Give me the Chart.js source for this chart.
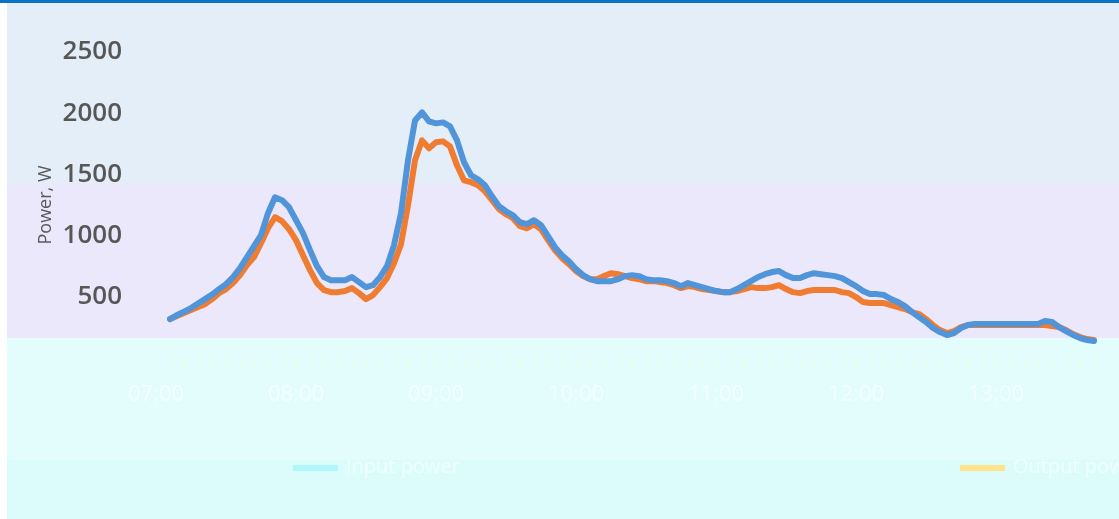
<!DOCTYPE html>
<html>
<head>
<meta charset="utf-8">
<script src="https://cdn.jsdelivr.net/npm/chart.js@4.4.1/dist/chart.umd.min.js"></script>
<style>
  html, body { margin: 0; padding: 0; background: #fff; }
  #wrap { position: relative; width: 1119px; height: 519px; overflow: hidden; }
  .band { position: absolute; left: 7px; right: 0; }
  #topbar { left: 0; top: 0; height: 3px; background: #0b72c4; }
  #b1 { top: 3px; height: 180px; background: #e4eef8; }
  #b2 { top: 183px; height: 155px; background: #ece8fb; }
  #b3 { top: 338px; height: 122px; background: #e3fcfc; }
  #b4 { top: 460px; bottom: 0; background: #dcfcfc; }
  #chart { position: absolute; left: 0; top: 0; }
  .lg { position: absolute; top: 452px; font: 20px "Open Sans", sans-serif; color: #f0ffff; white-space: nowrap; }
  .lg i { display: inline-block; width: 45px; height: 6px; vertical-align: middle; margin-right: 8px; }
</style>
</head>
<body>
<div id="wrap">
  <div class="band" id="topbar"></div>
  <div class="band" id="b1"></div>
  <div class="band" id="b2"></div>
  <div class="band" id="b3"></div>
  <div class="band" id="b4"></div>
  <canvas id="chart" width="1119" height="519"></canvas>
  <div class="lg" id="lg0" style="left:293px"></div>
  <div class="lg" id="lg1" style="left:960px"></div>
</div>
<script>
// Series names and tick labels
const seriesNames = ['Input power', 'Output power'];
const tickLabels = ['07:00', '08:00', '09:00', '10:00', '11:00', '12:00', '13:00'];

// one sample every 3 minutes starting 07:00
const times = [];
for (let m = 0; m <= 396; m += 3) {
    const h = 7 + Math.floor(m / 60), mm = m % 60;
    times.push(String(h).padStart(2, '0') + ':' + String(mm).padStart(2, '0'));
}

const inputPower = [
    318, 351, 379, 408, 445, 481, 518, 563, 604, 661,
    734, 824, 914, 1003, 1183, 1313, 1289, 1232, 1126, 1020,
    881, 750, 661, 636, 636, 636, 661, 620, 579, 595,
    661, 750, 922, 1183, 1615, 1941, 2007, 1933, 1917, 1925,
    1892, 1778, 1599, 1493, 1460, 1411, 1321, 1240, 1199, 1166,
    1109, 1093, 1126, 1085, 995, 905, 840, 791, 726, 677,
    644, 628, 628, 628, 644, 669, 677, 669, 644, 636,
    636, 628, 612, 587, 612, 595, 579, 563, 547, 538,
    538, 563, 595, 628, 661, 685, 702, 710, 677, 653,
    653, 677, 693, 685, 677, 669, 653, 620, 587, 547,
    522, 522, 514, 481, 457, 424, 375, 334, 294, 245,
    212, 188, 204, 245, 269, 277, 277, 277, 277, 277,
    277, 277, 277, 277, 277, 302, 294, 253, 220, 188,
    163, 147, 139
];

const outputPower = [
    318, 343, 367, 392, 416, 440, 481, 530, 563, 612,
    677, 759, 824, 938, 1060, 1150, 1118, 1052, 963, 840,
    718, 612, 555, 538, 538, 547, 571, 530, 481, 514,
    579, 653, 775, 930, 1248, 1615, 1778, 1713, 1762, 1770,
    1729, 1574, 1452, 1436, 1411, 1362, 1289, 1215, 1175, 1142,
    1077, 1060, 1093, 1052, 963, 881, 816, 767, 710, 669,
    644, 644, 669, 693, 685, 669, 653, 644, 628, 628,
    620, 612, 595, 571, 587, 579, 563, 555, 547, 538,
    538, 547, 563, 579, 571, 571, 579, 595, 563, 538,
    530, 547, 555, 555, 555, 555, 538, 530, 498, 457,
    449, 449, 449, 432, 416, 400, 375, 359, 318, 269,
    228, 204, 220, 253, 269, 269, 269, 269, 269, 269,
    269, 269, 269, 269, 269, 269, 261, 253, 228, 196,
    171, 155, 147
];

const lineColors = ['#5094da', '#f07c32'];
const legendSwatches = ['#aef8fc', '#ffe38a'];

// legend (washed out like the rest of the lower band)
seriesNames.forEach((name, i) => {
    const el = document.getElementById('lg' + i);
    el.innerHTML = '<i style="background:' + legendSwatches[i] + '"></i>' + name;
});

const ctx = document.getElementById('chart').getContext('2d');
const chart = new Chart(ctx, {
    type: 'line',
    data: {
        labels: times,
        datasets: [{
            label: seriesNames[0],
            data: inputPower,
            borderColor: lineColors[0],
            borderWidth: 6,
            pointRadius: 0,
            tension: 0,
            borderJoinStyle: 'round',
            borderCapStyle: 'round'
        }, {
            label: seriesNames[1],
            data: outputPower,
            borderColor: lineColors[1],
            borderWidth: 6,
            pointRadius: 0,
            tension: 0,
            borderJoinStyle: 'round',
            borderCapStyle: 'round'
        }]
    },
    options: {
        responsive: false,
        animation: false,
        layout: { padding: { top: 52, left: 35, right: 25, bottom: 101 } },
        plugins: {
            legend: { display: false },
            tooltip: { enabled: false }
        },
        scales: {
            x: {
                offset: false,
                border: { display: false },
                grid: {
                    drawOnChartArea: false,
                    drawTicks: true,
                    tickLength: 12,
                    tickColor: c => (c.index % 2 === 0 ? 'rgba(235,255,215,0.9)' : 'rgba(0,0,0,0)')
                },
                ticks: {
                    autoSkip: false,
                    maxRotation: 0,
                    padding: 12,
                    labelOffset: -14,
                    color: '#f2ffff',
                    font: { family: 'Open Sans', size: 22 },
                    callback: (v, i) => (i % 20 === 0 ? tickLabels[i / 20] : '')
                },
                afterFit: s => { s.height = 60; }
            },
            y: {
                min: 0,
                max: 2500,
                border: { display: false },
                grid: { display: false, drawTicks: false },
                ticks: {
                    stepSize: 500,
                    padding: 48,
                    color: '#575757',
                    font: { family: 'Open Sans', size: 26, weight: '600' },
                    callback: v => (v === 0 ? '' : v)
                },
                title: {
                    display: true,
                    text: 'Power, W',
                    color: '#595959',
                    font: { family: 'Open Sans', size: 18 },
                    padding: { top: 0, bottom: 0 }
                },
                // fixed axis width, and no extra top/bottom room for the tick labels
                afterFit: s => { s.width = 135; s.paddingTop = 0; s.paddingBottom = 0; }
            }
        }
    }
});
</script>
</body>
</html>
